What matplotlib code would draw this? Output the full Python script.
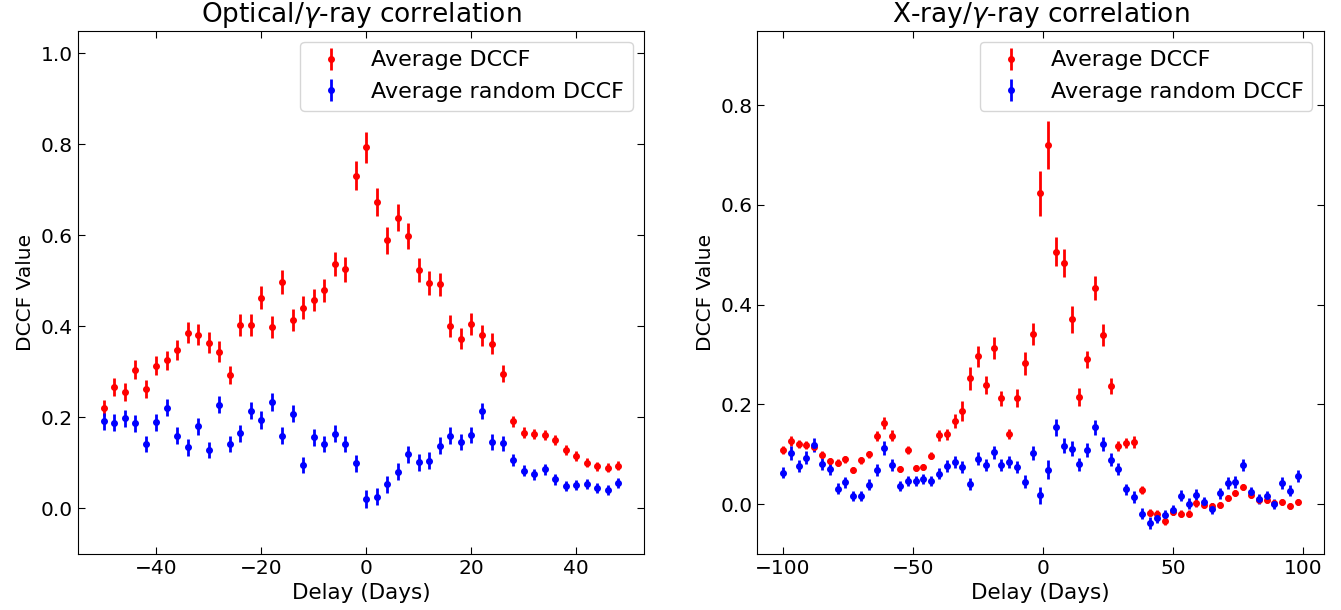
import numpy as np
import matplotlib
matplotlib.use("Agg")
import matplotlib.pyplot as plt
from matplotlib.ticker import MultipleLocator

# optical / gamma-ray
opt_delay = np.arange(-50, 49, 2)
opt_dccf = [0.220, 0.267, 0.255, 0.305, 0.262, 0.313, 0.325, 0.349, 0.386, 0.382,
            0.364, 0.344, 0.293, 0.403, 0.403, 0.463, 0.398, 0.498, 0.414, 0.441,
            0.458, 0.479, 0.537, 0.525, 0.731, 0.793, 0.674, 0.589, 0.639, 0.599,
            0.524, 0.495, 0.492, 0.400, 0.373, 0.405, 0.380, 0.362, 0.296, 0.191,
            0.166, 0.163, 0.161, 0.150, 0.129, 0.116, 0.100, 0.092, 0.089, 0.094]
opt_dccf_err = [0.018, 0.020, 0.020, 0.021, 0.020, 0.021, 0.021, 0.022, 0.023, 0.023,
                0.023, 0.023, 0.020, 0.024, 0.024, 0.025, 0.024, 0.026, 0.024, 0.025,
                0.025, 0.026, 0.027, 0.027, 0.032, 0.035, 0.031, 0.029, 0.030, 0.029,
                0.027, 0.026, 0.026, 0.024, 0.023, 0.024, 0.023, 0.023, 0.018, 0.012,
                0.012, 0.011, 0.011, 0.011, 0.011, 0.011, 0.010, 0.010, 0.010, 0.010]
opt_rand = [0.191, 0.188, 0.198, 0.187, 0.142, 0.189, 0.221, 0.160, 0.134, 0.180,
            0.128, 0.228, 0.142, 0.165, 0.215, 0.194, 0.234, 0.160, 0.208, 0.095,
            0.156, 0.141, 0.164, 0.141, 0.099, 0.020, 0.026, 0.053, 0.081, 0.119,
            0.101, 0.105, 0.138, 0.160, 0.146, 0.161, 0.214, 0.146, 0.143, 0.106,
            0.083, 0.075, 0.086, 0.064, 0.050, 0.051, 0.053, 0.045, 0.040, 0.056]
opt_rand_err = [0.019, 0.019, 0.019, 0.019, 0.018, 0.019, 0.019, 0.019, 0.018, 0.019,
                0.018, 0.019, 0.018, 0.019, 0.019, 0.019, 0.019, 0.019, 0.019, 0.017,
                0.019, 0.018, 0.019, 0.018, 0.018, 0.020, 0.019, 0.019, 0.019, 0.019,
                0.019, 0.019, 0.019, 0.018, 0.018, 0.018, 0.017, 0.017, 0.016, 0.013,
                0.012, 0.012, 0.012, 0.012, 0.011, 0.011, 0.011, 0.011, 0.011, 0.011]

# x-ray / gamma-ray
xr_delay = np.arange(-100, 99, 3)
xr_dccf = [0.108, 0.126, 0.120, 0.119, 0.114, 0.099, 0.086, 0.083, 0.090, 0.069,
           0.088, 0.100, 0.136, 0.163, 0.137, 0.071, 0.108, 0.073, 0.074, 0.097,
           0.138, 0.140, 0.167, 0.186, 0.252, 0.296, 0.238, 0.313, 0.212, 0.140,
           0.212, 0.282, 0.342, 0.623, 0.721, 0.506, 0.483, 0.371, 0.214, 0.290,
           0.433, 0.340, 0.237, 0.117, 0.123, 0.124, 0.029, -0.017, -0.019, -0.035,
           -0.015, -0.019, -0.019, 0.002, -0.001, -0.003, -0.001, 0.013, 0.023, 0.035,
           0.019, 0.009, 0.008, 0.002, 0.004, -0.004, 0.005]
xr_dccf_err = [0.008, 0.010, 0.008, 0.008, 0.008, 0.007, 0.007, 0.007, 0.007, 0.006,
               0.007, 0.007, 0.010, 0.012, 0.011, 0.006, 0.008, 0.006, 0.006, 0.007,
               0.011, 0.011, 0.014, 0.020, 0.023, 0.022, 0.018, 0.022, 0.015, 0.010,
               0.018, 0.023, 0.022, 0.046, 0.048, 0.029, 0.028, 0.027, 0.018, 0.018,
               0.024, 0.022, 0.016, 0.010, 0.010, 0.012, 0.008, 0.007, 0.007, 0.007,
               0.006, 0.007, 0.008, 0.007, 0.006, 0.006, 0.006, 0.006, 0.006, 0.006,
               0.006, 0.006, 0.006, 0.006, 0.006, 0.006, 0.006]
xr_rand = [0.063, 0.102, 0.076, 0.093, 0.118, 0.080, 0.070, 0.031, 0.044, 0.017,
           0.017, 0.039, 0.069, 0.113, 0.079, 0.037, 0.047, 0.047, 0.051, 0.047,
           0.061, 0.077, 0.085, 0.074, 0.041, 0.091, 0.079, 0.104, 0.079, 0.085,
           0.075, 0.045, 0.103, 0.018, 0.069, 0.154, 0.117, 0.111, 0.080, 0.109,
           0.154, 0.120, 0.089, 0.070, 0.030, 0.015, -0.019, -0.039, -0.029, -0.022,
           -0.011, 0.017, 0.001, 0.019, 0.005, -0.009, 0.022, 0.043, 0.045, 0.078,
           0.025, 0.011, 0.016, 0.000, 0.043, 0.027, 0.057]
xr_rand_err = [0.011, 0.014, 0.012, 0.013, 0.014, 0.012, 0.011, 0.011, 0.011, 0.010,
               0.010, 0.011, 0.012, 0.014, 0.012, 0.010, 0.010, 0.010, 0.010, 0.010,
               0.011, 0.012, 0.012, 0.012, 0.012, 0.013, 0.012, 0.013, 0.012, 0.012,
               0.012, 0.013, 0.014, 0.017, 0.019, 0.017, 0.015, 0.015, 0.013, 0.014,
               0.015, 0.014, 0.013, 0.012, 0.011, 0.012, 0.011, 0.012, 0.010, 0.010,
               0.010, 0.011, 0.011, 0.011, 0.010, 0.011, 0.011, 0.012, 0.012, 0.012,
               0.010, 0.010, 0.010, 0.010, 0.012, 0.011, 0.012]

panels = [
    ("Optical/$\\gamma$-ray correlation", opt_delay, opt_dccf, opt_dccf_err, opt_rand, opt_rand_err, (-0.1, 1.05), 20),
    ("X-ray/$\\gamma$-ray correlation", xr_delay, xr_dccf, xr_dccf_err, xr_rand, xr_rand_err, (-0.1, 0.95), 50),
]

fig, axes = plt.subplots(1, 2, figsize=(13.41, 6.1), dpi=100)
fig.subplots_adjust(left=0.058, right=0.987, bottom=0.092, top=0.95, wspace=0.2)

for ax, (title, x, y, yerr, yr, yrerr, ylim, xstep) in zip(axes, panels):
    ax.errorbar(x, y, yerr=yerr, fmt='o', color='red', ms=4, elinewidth=2,
                capsize=0, label='Average DCCF')
    ax.errorbar(x, yr, yerr=yrerr, fmt='o', color='blue', ms=4, elinewidth=2,
                capsize=0, label='Average random DCCF')
    ax.set_ylim(*ylim)
    ax.xaxis.set_major_locator(MultipleLocator(xstep))
    ax.set_title(title, fontsize=19)
    ax.set_xlabel('Delay (Days)', fontsize=15.5)
    ax.set_ylabel('DCCF Value', fontsize=14.5)
    ax.tick_params(direction='in', top=True, right=True, labelsize=14.5, length=5)
    ax.legend(loc='upper right', fontsize=16)

fig.savefig('out.png')
